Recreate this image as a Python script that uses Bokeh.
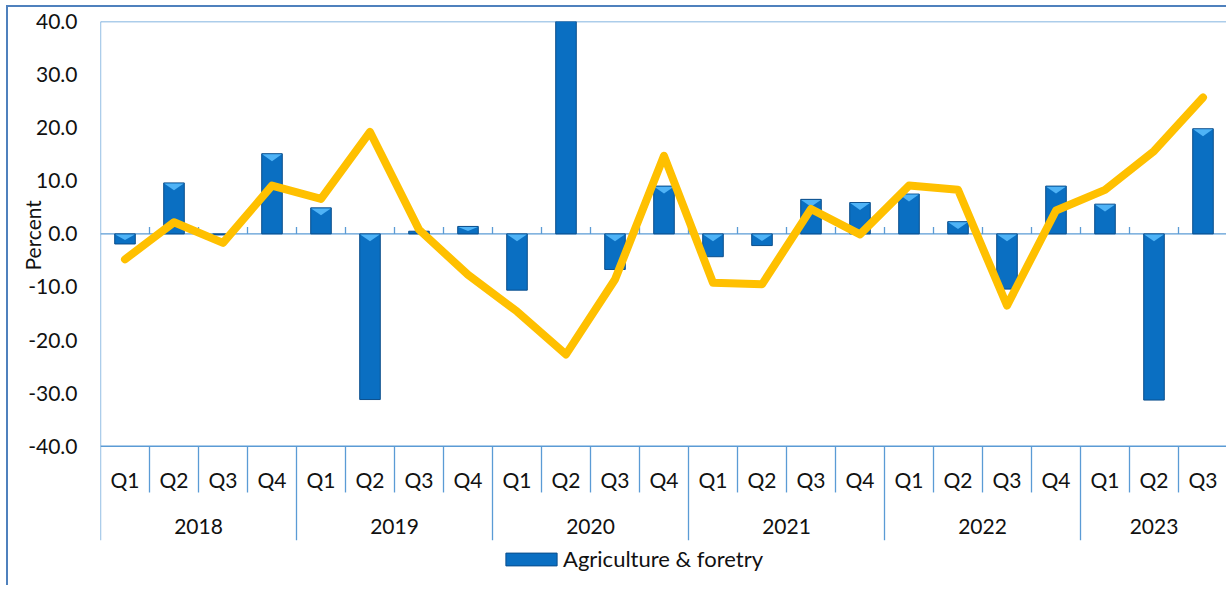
from bokeh.plotting import figure
from bokeh.models import (FactorRange, Range1d, FixedTicker, NumeralTickFormatter,
                          Legend, LegendItem, Title)
from bokeh.core.properties import value
from bokeh.embed import file_html
from bokeh.resources import INLINE

# ---------------- data ----------------
years = ["2018", "2019", "2020", "2021", "2022", "2023"]
quarters_per_year = [4, 4, 4, 4, 4, 3]
quarter_names = ["Q1", "Q2", "Q3", "Q4"]

# bars: Agriculture & foretry growth (percent)
agri = [-1.9, 9.6, -0.2, 15.1,
        4.9, -31.2, 0.5, 1.4,
        -10.6, 52.0, -6.7, 9.0,
        -4.3, -2.2, 6.5, 5.9,
        7.5, 2.3, -10.4, 9.0,
        5.6, -31.3, 19.8]
# line series (percent)
overall = [-4.8, 2.2, -1.7, 9.1,
           6.6, 19.2, 0.8, -7.7,
           -14.6, -22.7, -8.6, 14.7,
           -9.2, -9.5, 4.7, -0.1,
           9.1, 8.3, -13.5, 4.4,
           8.3, 15.6, 25.7]
y_ticks = [-40, -30, -20, -10, 0, 10, 20, 30, 40]

# ---------------- derived ----------------
q_labels, factors = [], []
for y, n in zip(years, quarters_per_year):
    for q in quarter_names[:n]:
        q_labels.append(q)
        factors.append(f"{y} {q}")
n_cat = len(factors)

year_bounds, pos = [0], 0
for n in quarters_per_year:
    pos += n
    year_bounds.append(pos)
quarter_bounds = [i for i in range(1, n_cat) if i not in year_bounds]
year_centers = [(a + b) / 2 for a, b in zip(year_bounds[:-1], year_bounds[1:])]

FONT = "Lato"
FS = "21px"
AX = "#5B9BD5"
Y_LO, Y_HI = -66.6, 40
AXIS_BOTTOM = -57.7
Q_Y, YEAR_Y, Q_SEP_LO = -46.3, -55.1, -48.7

p = figure(width=1220, height=580, output_backend="svg", toolbar_location=None,
           x_range=FactorRange(factors=factors, range_padding=0, factor_padding=0),
           y_range=Range1d(Y_LO, Y_HI),
           min_border_left=92, min_border_right=1, min_border_top=14, min_border_bottom=0,
           styles={"margin-left": "6px", "margin-top": "5px",
                   "border-top": "2px solid #4F81BD", "border-left": "2px solid #4F81BD"})
p.outline_line_color = None
p.xgrid.visible = False
p.ygrid.visible = False
p.xaxis.visible = False

ax = p.yaxis[0]
ax.ticker = FixedTicker(ticks=y_ticks)
ax.formatter = NumeralTickFormatter(format="0.0")
ax.major_tick_line_color = None
ax.minor_tick_line_color = None
ax.axis_line_color = None
ax.major_label_standoff = 17
ax.major_label_text_font = FONT
ax.major_label_text_font_size = FS
ax.major_label_text_color = "#111111"

ytitle = Title(text="Percent", align="left", offset=317, vertical_align="bottom",
               standoff=-38, text_font=FONT, text_font_size="21px",
               text_font_style="normal", text_color="#111111")
p.add_layout(ytitle, "left")

# frame lines
p.segment(x0=[0, 0, 0], x1=[n_cat, n_cat, n_cat], y0=[Y_HI, -40, 0], y1=[Y_HI, -40, 0],
          line_color=AX, line_width=1.3)
p.segment(x0=year_bounds, x1=year_bounds,
          y0=[Y_HI if b in (0, n_cat) else -40 for b in year_bounds],
          y1=[AXIS_BOTTOM] * len(year_bounds), line_color=AX, line_width=1.3)
p.segment(x0=quarter_bounds, x1=quarter_bounds, y0=[-40] * len(quarter_bounds),
          y1=[Q_SEP_LO] * len(quarter_bounds), line_color=AX, line_width=1.3)
inner = list(range(1, n_cat))
p.segment(x0=inner, x1=inner, y0=[0] * len(inner), y1=[1.3] * len(inner),
          line_color=AX, line_width=1.3)

# bars
bars = p.vbar(x=factors, top=agri, bottom=0, width=0.42,
              fill_color="#0A6FC2", line_color="#0B4E8C", line_width=1)
tri_x, tri_y = [], []
for i, v in enumerate(agri):
    if abs(v) < 0.8:
        continue
    c = i + 0.5
    top = min(max(v, 0), Y_HI + 5)
    d = min(1.4, abs(v) * 0.6)
    tri_x.append([c - 0.2, c + 0.2, c])
    tri_y.append([top - 0.1, top - 0.1, top - d])
p.patches(xs=tri_x, ys=tri_y, fill_color="#4FB3F6", line_color=None)

# line
p.line(x=factors, y=overall, line_color="#FFC000", line_width=8,
       line_join="round", line_cap="round")

# category labels
p.text(x=factors, y=[Q_Y] * n_cat, text=q_labels, text_align="center",
       text_baseline="middle", text_font=value(FONT), text_font_size=FS, text_color="#111111")
p.text(x=year_centers, y=[YEAR_Y] * len(years), text=years, text_align="center",
       text_baseline="middle", text_font=value(FONT), text_font_size=FS, text_color="#111111")

legend = Legend(items=[LegendItem(label="Agriculture & foretry", renderers=[bars])],
                location=(399, 15), glyph_width=64, glyph_height=16,
                label_text_font=FONT, label_text_font_size="22px", label_text_color="#111111",
                border_line_color=None, background_fill_alpha=0, padding=0, margin=0,
                label_standoff=0)
p.add_layout(legend, "center")

open("out.html", "w").write(file_html(p, INLINE))
